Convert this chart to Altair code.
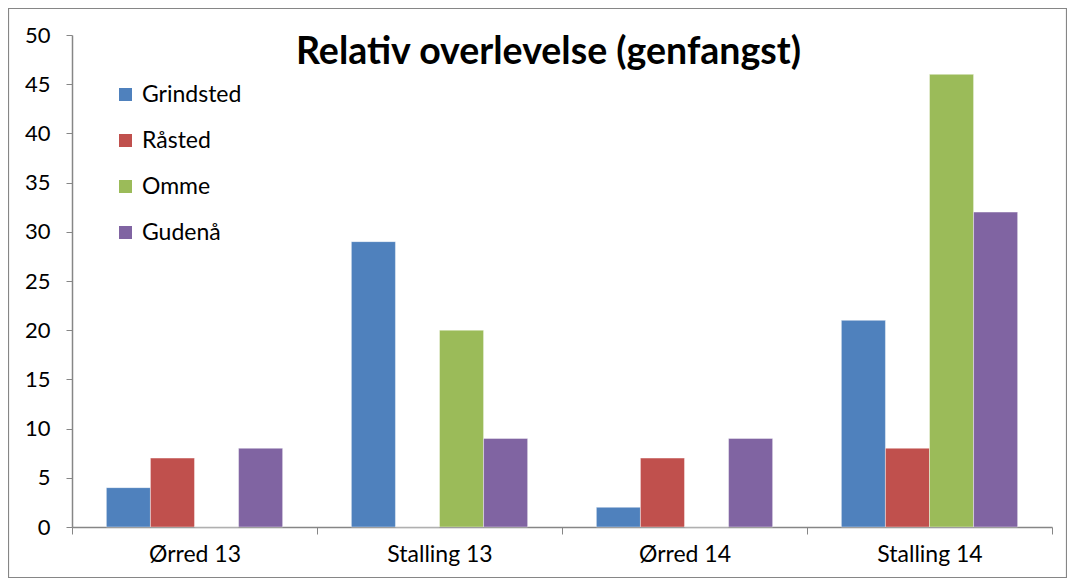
import altair as alt
import pandas as pd

categories = ["Ørred 13", "Stalling 13", "Ørred 14", "Stalling 14"]
series = ["Grindsted", "Råsted", "Omme", "Gudenå"]
grindsted = [4, 29, 2, 21]
rasted = [7, 0, 7, 8]
omme = [0, 20, 0, 46]
gudena = [8, 9, 9, 32]
colors = ["#4F81BD", "#C0504D", "#9BBB59", "#8064A2"]
y_ticks = list(range(0, 55, 5))
title_text = "Relativ overlevelse (genfangst)"

rows = []
for s, vals in zip(series, [grindsted, rasted, omme, gudena]):
    for c, v in zip(categories, vals):
        rows.append({"Kategori": c, "Serie": s, "Værdi": v})
df = pd.DataFrame(rows)

FONT = "Lato"
AXIS_COLOR = "#868686"

bars = alt.Chart(df).mark_bar(stroke="white", strokeWidth=0.4).encode(
    x=alt.X(
        "Kategori:N",
        sort=categories,
        scale=alt.Scale(paddingInner=0, paddingOuter=0),
        axis=alt.Axis(
            title=None, labelAngle=0, tickBand="extent", tickSize=7,
            labelPadding=9, labelFontSize=23, labelFont=FONT, labelColor="black",
            domainColor=AXIS_COLOR, tickColor=AXIS_COLOR, domainWidth=1.5,
        ),
    ),
    xOffset=alt.XOffset(
        "Serie:N", sort=series,
        scale=alt.Scale(paddingInner=0, paddingOuter=0.78),
    ),
    y=alt.Y(
        "Værdi:Q",
        scale=alt.Scale(domain=[0, 50], nice=False),
        axis=alt.Axis(
            title=None, values=y_ticks, grid=False, tickSize=6,
            labelPadding=16, labelFontSize=22, labelFont=FONT, labelColor="black",
            domainColor=AXIS_COLOR, tickColor=AXIS_COLOR, domainWidth=1.5,
        ),
    ),
    color=alt.Color(
        "Serie:N", sort=series,
        scale=alt.Scale(domain=series, range=colors),
        legend=alt.Legend(
            title=None, orient="none", legendX=42, legendY=48,
            symbolType="square", symbolSize=169, symbolStrokeWidth=0,
            labelFontSize=23, labelFont=FONT, labelColor="black",
            rowPadding=22, labelOffset=5,
        ),
    ),
)

title = alt.Chart(pd.DataFrame({"t": [title_text]})).mark_text(
    fontSize=37.5, fontWeight="bold", font=FONT, color="black",
    align="center", baseline="alphabetic",
).encode(text="t:N", x=alt.value(476.5), y=alt.value(29))

border = alt.Chart(pd.DataFrame({"b": [1]})).mark_rect(
    fill=None, stroke=AXIS_COLOR, strokeWidth=1.2,
).encode(
    x=alt.value(-63.5), x2=alt.value(994.5),
    y=alt.value(-26.5), y2=alt.value(542.5),
)

chart = alt.layer(border, bars, title).properties(
    width=980, height=492,
    autosize=alt.AutoSizeParams(type="none"),
    padding={"left": 64, "top": 27, "right": 15, "bottom": 51},
).configure_view(stroke=None)

chart.save("out.html", embed_options={"renderer": "svg", "actions": False})
